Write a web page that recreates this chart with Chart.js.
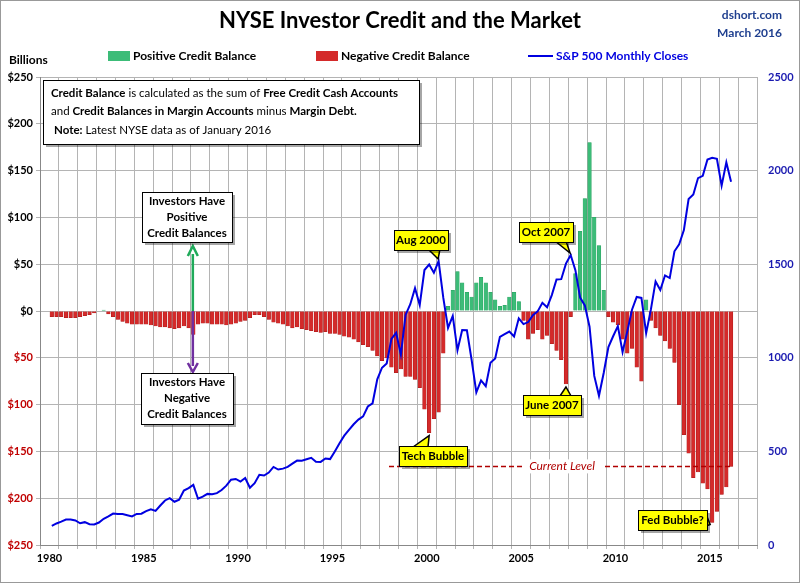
<!DOCTYPE html>
<html>
<head>
<meta charset="utf-8">
<script src="https://cdn.jsdelivr.net/npm/chart.js@4.4.1/dist/chart.umd.min.js"></script>
<style>
  html, body { margin: 0; padding: 0; background: #fff; }
  #wrap { width: 800px; height: 583px; position: relative; }
</style>
</head>
<body>
<div id="wrap"><canvas id="chart" width="800" height="583"></canvas></div>
<script>
// NYSE Investor Credit vs S&P 500 - quarterly readings from the reference

const firstYear = 1980;
const yearTicks = [1980, 1985, 1990, 1995, 2000, 2005, 2010, 2015];

// Credit balance, billions $, one row per year (Q1..Q4)
const creditBalance = [
    [-6, -6, -6, -7],        // 1980
    [-7, -7, -6, -5],        // 1981
    [-4, -2, 0, 1],          // 1982
    [-3, -6, -9, -11],       // 1983
    [-13, -14, -14, -14],    // 1984
    [-14, -15, -16, -17],    // 1985
    [-17, -18, -19, -18],    // 1986
    [-16, -18, -25, -14],    // 1987
    [-13, -13, -14, -14],    // 1988
    [-14, -15, -14, -13],    // 1989
    [-11, -10, -7, -4],      // 1990
    [-4, -6, -9, -12],       // 1991
    [-13, -14, -16, -18],    // 1992
    [-17, -19, -20, -21],    // 1993
    [-22, -23, -22, -24],    // 1994
    [-24, -25, -27, -28],    // 1995
    [-30, -33, -36, -38],    // 1996
    [-42, -48, -53, -50],    // 1997
    [-60, -66, -62, -70],    // 1998
    [-70, -73, -82, -105],   // 1999
    [-130, -115, -108, -45], // 2000
    [5, 22, 42, 30],         // 2001
    [20, 15, 30, 36],        // 2002
    [30, 20, 12, 5],         // 2003
    [6, 15, 20, 10],         // 2004
    [-10, -30, -24, -20],    // 2005
    [-30, -26, -35, -42],    // 2006
    [-52, -78, -6, 40],      // 2007
    [85, 120, 180, 100],     // 2008
    [70, 22, -6, -12],       // 2009
    [-15, -30, -45, -40],    // 2010
    [-60, -75, 12, -10],     // 2011
    [-18, -26, -32, -40],    // 2012
    [-55, -100, -132, -152], // 2013
    [-178, -172, -184, -190],// 2014
    [-226, -214, -196, -188],// 2015
    [-166]                   // 2016 (Jan)
];

// S&P 500 quarter-end closes
const spCloses = [
    [102, 115, 125, 136],     // 1980
    [136, 131, 116, 122],     // 1981
    [111, 110, 120, 140],     // 1982
    [153, 168, 166, 165],     // 1983
    [159, 153, 166, 167],     // 1984
    [181, 191, 182, 211],     // 1985
    [238, 250, 231, 242],     // 1986
    [291, 304, 321, 247],     // 1987
    [258, 273, 271, 277],     // 1988
    [294, 317, 349, 353],     // 1989
    [339, 358, 306, 330],     // 1990
    [375, 371, 387, 417],     // 1991
    [403, 408, 417, 435],     // 1992
    [451, 450, 458, 466],     // 1993
    [445, 444, 462, 459],     // 1994
    [500, 544, 584, 615],     // 1995
    [645, 670, 687, 740],     // 1996
    [757, 885, 947, 970],     // 1997
    [1101, 1133, 1017, 1229], // 1998
    [1286, 1372, 1282, 1469], // 1999
    [1498, 1454, 1517, 1320], // 2000
    [1160, 1224, 1040, 1148], // 2001
    [1147, 989, 815, 879],    // 2002
    [848, 974, 996, 1112],    // 2003
    [1126, 1140, 1114, 1211], // 2004
    [1180, 1191, 1228, 1248], // 2005
    [1294, 1270, 1335, 1418], // 2006
    [1420, 1503, 1549, 1468], // 2007
    [1322, 1280, 1166, 903],  // 2008
    [797, 919, 1057, 1115],   // 2009
    [1169, 1031, 1141, 1257], // 2010
    [1325, 1320, 1131, 1257], // 2011
    [1408, 1362, 1440, 1426], // 2012
    [1569, 1606, 1682, 1848], // 2013
    [1872, 1960, 1972, 2059], // 2014
    [2068, 2063, 1920, 2044], // 2015
    [1940]                    // 2016 (Jan)
];

function toPoints(rows) {
    const pts = [];
    rows.forEach((row, i) => {
        row.forEach((v, q) => pts.push({ x: firstYear + i + q * 0.25 + 0.125, y: v }));
    });
    return pts;
}

const FONT = 'Lato, "Open Sans", sans-serif';

// Callout box helper
function box(ctx, x, y, w, h, fill, lines, opts = {}) {
    ctx.save();
    ctx.fillStyle = 'rgba(0,0,0,0.35)';
    ctx.fillRect(x + 3, y + 3, w, h);
    ctx.fillStyle = fill;
    ctx.strokeStyle = '#000';
    ctx.lineWidth = 1;
    ctx.fillRect(x, y, w, h);
    ctx.strokeRect(x + 0.5, y + 0.5, w, h);
    ctx.fillStyle = '#000';
    ctx.font = 'bold 11.5px ' + FONT;
    ctx.textAlign = 'center';
    ctx.textBaseline = 'middle';
    const lh = opts.lh || 16;
    const top = y + h / 2 - (lines.length - 1) * lh / 2;
    lines.forEach((t, i) => ctx.fillText(t, x + w / 2, top + i * lh));
    ctx.restore();
}

function pointer(ctx, pts, fill) {
    ctx.save();
    ctx.fillStyle = fill;
    ctx.strokeStyle = '#000';
    ctx.beginPath();
    ctx.moveTo(pts[0][0], pts[0][1]);
    pts.slice(1).forEach(p => ctx.lineTo(p[0], p[1]));
    ctx.closePath();
    ctx.fill();
    ctx.stroke();
    ctx.restore();
}

function richLine(ctx, x, y, parts) {
    let cx = x;
    parts.forEach(([t, bold]) => {
        ctx.font = (bold ? 'bold ' : '') + '11.5px ' + FONT;
        ctx.fillText(t, cx, y);
        cx += ctx.measureText(t).width;
    });
}

const decorations = {
    id: 'decorations',
    afterDraw(chart) {
        const ctx = chart.ctx;
        const xs = chart.scales.x, ys = chart.scales.y, ys1 = chart.scales.y1;
        ctx.save();
        // outer frame
        ctx.strokeStyle = '#999';
        ctx.strokeRect(0.5, 0.5, 799, 582);

        // title and source
        ctx.fillStyle = '#000';
        ctx.textBaseline = 'middle';
        ctx.textAlign = 'center';
        ctx.font = 'bold 22px ' + FONT;
        ctx.fillText('NYSE Investor Credit and the Market', 400, 21);
        ctx.fillStyle = '#1f3f8f';
        ctx.font = 'bold 12px ' + FONT;
        ctx.textAlign = 'right';
        ctx.fillText('dshort.com', 782, 15);
        ctx.fillText('March 2016', 782, 33);

        // legend
        ctx.textAlign = 'left';
        ctx.fillStyle = '#000';
        ctx.font = 'bold 12px ' + FONT;
        ctx.fillText('Billions', 9, 60);
        ctx.fillStyle = '#3cbc78';
        ctx.fillRect(108, 51, 22, 10);
        ctx.fillStyle = '#000';
        ctx.fillText('Positive Credit Balance', 133, 56);
        ctx.fillStyle = '#d42a2a';
        ctx.fillRect(316, 51, 22, 10);
        ctx.fillStyle = '#000';
        ctx.fillText('Negative Credit Balance', 341, 56);
        ctx.strokeStyle = '#0000e0';
        ctx.lineWidth = 2;
        ctx.beginPath(); ctx.moveTo(528, 56); ctx.lineTo(553, 56); ctx.stroke();
        ctx.fillStyle = '#0000e0';
        ctx.fillText('S&P 500 Monthly Closes', 556, 56);

        // explanation box
        ctx.fillStyle = 'rgba(0,0,0,0.35)';
        ctx.fillRect(46, 83, 376, 64);
        ctx.fillStyle = '#fff';
        ctx.fillRect(43, 80, 376, 64);
        ctx.strokeStyle = '#000';
        ctx.lineWidth = 1;
        ctx.strokeRect(43.5, 80.5, 376, 64);
        ctx.fillStyle = '#000';
        richLine(ctx, 51, 93, [['Credit Balance', true], [' is calculated as the sum of ', false], ['Free Credit Cash Accounts', true]]);
        richLine(ctx, 51, 111, [['and ', false], ['Credit Balances in Margin Accounts', true], [' minus ', false], ['Margin Debt.', true]]);
        richLine(ctx, 54, 130, [['Note:', true], [' Latest NYSE data as of January 2016', false]]);

        // green / purple arrows
        const ax = xs.getPixelForValue(1987.6), zero = ys.getPixelForValue(0);
        ctx.lineWidth = 2.5;
        ctx.strokeStyle = '#1faa5a';
        ctx.beginPath(); ctx.moveTo(ax, zero); ctx.lineTo(ax, 254); ctx.stroke();
        ctx.beginPath(); ctx.moveTo(ax - 5, 256); ctx.lineTo(ax, 246); ctx.lineTo(ax + 5, 256); ctx.stroke();
        ctx.strokeStyle = '#7030a0';
        ctx.beginPath(); ctx.moveTo(ax, zero); ctx.lineTo(ax, 366); ctx.stroke();
        ctx.beginPath(); ctx.moveTo(ax - 5, 363); ctx.lineTo(ax, 372); ctx.lineTo(ax + 5, 363); ctx.stroke();
        box(ctx, 142, 192, 90, 50, '#fff', ['Investors Have', 'Positive', 'Credit Balances']);
        box(ctx, 141, 373, 92, 51, '#fff', ['Investors Have', 'Negative', 'Credit Balances']);

        // current level dashed line
        const cy = ys.getPixelForValue(-166);
        ctx.strokeStyle = '#b00000';
        ctx.lineWidth = 1.5;
        ctx.setLineDash([5, 3]);
        ctx.beginPath(); ctx.moveTo(389, cy); ctx.lineTo(xs.getPixelForValue(2016.1), cy); ctx.stroke();
        ctx.setLineDash([]);
        ctx.fillStyle = '#fff';
        ctx.fillRect(522, cy - 7, 80, 14);
        ctx.fillStyle = '#b00000';
        ctx.font = 'italic 12px ' + FONT;
        ctx.textAlign = 'center';
        ctx.fillText('Current Level', 562, cy);

        // yellow callouts with pointers aimed at data
        const Y = '#ffff00';
        const aug = [xs.getPixelForValue(2000.6), ys1.getPixelForValue(1517)];
        pointer(ctx, [[428, 249], [aug[0], aug[1] - 2], [440, 249]], Y);
        box(ctx, 394, 230, 54, 20, Y, ['Aug 2000']);
        const oct = [xs.getPixelForValue(2007.7), ys1.getPixelForValue(1549)];
        pointer(ctx, [[555, 241], [oct[0] - 2, oct[1] - 2], [566, 241]], Y);
        box(ctx, 519, 222, 54, 20, Y, ['Oct 2007']);
        const jun = [xs.getPixelForValue(2007.375), ys.getPixelForValue(-78)];
        pointer(ctx, [[560, 396], [jun[0], jun[1] + 3], [571, 396]], Y);
        box(ctx, 523, 395, 58, 20, Y, ['June 2007']);
        const tech = [xs.getPixelForValue(2000.125), ys.getPixelForValue(-130)];
        pointer(ctx, [[413, 447], [tech[0], tech[1] + 3], [428, 447]], Y);
        box(ctx, 399, 446, 68, 20, Y, ['Tech Bubble']);
        const fed = [xs.getPixelForValue(2015.125), ys.getPixelForValue(-226)];
        pointer(ctx, [[706, 514], [fed[0] - 2, fed[1] + 2], [706, 526]], Y);
        box(ctx, 638, 510, 69, 20, Y, ['Fed Bubble?']);
        ctx.restore();
    }
};

const barPoints = toPoints(creditBalance);
const linePoints = toPoints(spCloses);

new Chart(document.getElementById('chart'), {
    data: {
        datasets: [{
            type: 'line',
            data: linePoints,
            yAxisID: 'y1',
            borderColor: '#0000e0',
            borderWidth: 2,
            pointRadius: 0,
            tension: 0,
            order: 0
        }, {
            type: 'bar',
            data: barPoints,
            yAxisID: 'y',
            backgroundColor: ctx => (ctx.raw && ctx.raw.y >= 0) ? '#3cbc78' : '#d42a2a',
            borderColor: ctx => (ctx.raw && ctx.raw.y >= 0) ? '#2aa060' : '#a81818',
            borderWidth: 0.5,
            barThickness: 3.6,
            order: 1
        }]
    },
    options: {
        responsive: false,
        animation: false,
        layout: { padding: { top: 77, left: 0, right: 0 } },
        plugins: { legend: { display: false }, tooltip: { enabled: false } },
        scales: {
            x: {
                type: 'linear',
                min: 1980,
                max: 2017,
                afterFit: s => { s.height = 38; s.paddingLeft = 0; s.paddingRight = 0; },
                afterBuildTicks: s => {
                    s.ticks = [];
                    for (let v = 1980; v <= 2017; v++) s.ticks.push({ value: v });
                },
                grid: { color: '#b4b4b4', lineWidth: 1, drawTicks: true, tickLength: 4 },
                border: { color: '#888' },
                ticks: {
                    autoSkip: false,
                    maxRotation: 0,
                    color: '#000',
                    font: { family: FONT, size: 11, weight: 'bold' },
                    callback: v => yearTicks.includes(v) ? String(v) : ''
                }
            },
            y: {
                position: 'left',
                min: -250,
                max: 250,
                afterFit: s => { s.width = 40; },
                grid: { color: '#b4b4b4', lineWidth: 1, tickLength: 4 },
                border: { color: '#888' },
                ticks: {
                    stepSize: 50,
                    color: c => c.tick.value < 0 ? '#c00000' : '#000',
                    font: { family: FONT, size: 11, weight: 'bold' },
                    callback: v => '$' + Math.abs(v)
                }
            },
            y1: {
                position: 'right',
                min: 0,
                max: 2500,
                afterFit: s => { s.width = 43; },
                grid: { display: false },
                border: { display: false },
                ticks: {
                    stepSize: 500,
                    color: '#1a1ab0',
                    font: { family: FONT, size: 11, weight: 'bold' },
                    callback: v => String(v)
                }
            }
        }
    },
    plugins: [decorations]
});
</script>
</body>
</html>
